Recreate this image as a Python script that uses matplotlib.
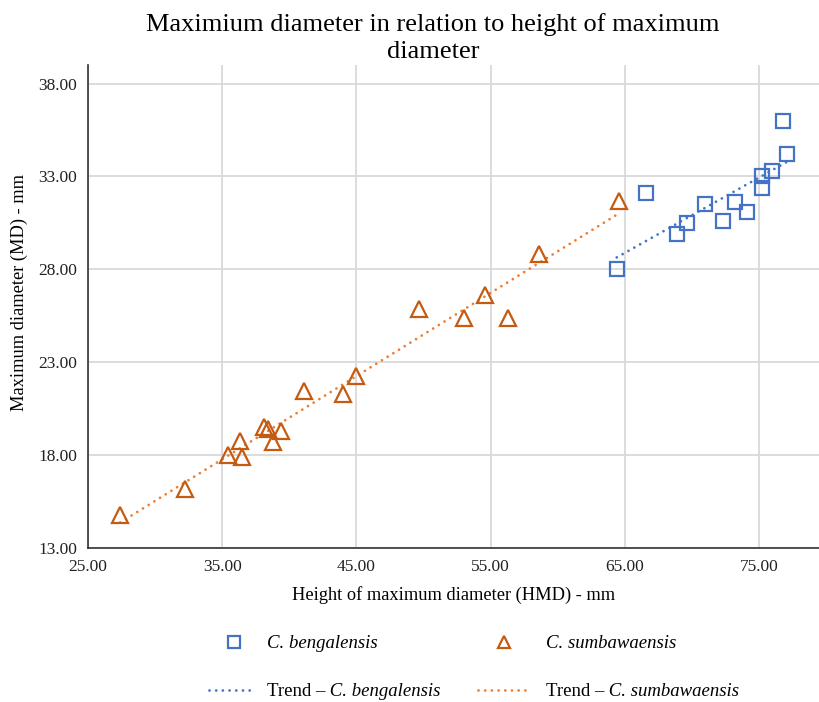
import numpy as np
import matplotlib
matplotlib.use("Agg")
import matplotlib.pyplot as plt
from matplotlib.lines import Line2D

plt.rcParams['font.family'] = ['Liberation Serif', 'DejaVu Serif']

# C. bengalensis (HMD, MD)
beng_hmd = [76.8, 77.1, 76.0, 75.2, 75.2, 66.6, 73.2, 71.0, 74.1, 69.6, 72.3, 68.9, 64.4]
beng_md = [36.0, 34.2, 33.3, 33.0, 32.4, 32.1, 31.6, 31.5, 31.1, 30.5, 30.6, 29.9, 28.0]

# C. sumbawaensis (HMD, MD)
sumb_hmd = [27.4, 32.2, 35.4, 36.5, 36.3, 38.1, 38.4, 38.75, 39.4, 41.1, 44.0, 45.0,
            49.7, 53.0, 54.6, 56.3, 58.6, 64.6]
sumb_md = [14.8, 16.2, 18.0, 17.9, 18.75, 19.5, 19.4, 18.7, 19.3, 21.45, 21.3, 22.25,
           25.85, 25.4, 26.6, 25.4, 28.8, 31.7]

x_ticks = [25, 35, 45, 55, 65, 75]
y_ticks = [13, 18, 23, 28, 33, 38]

blue = '#4472C4'
orange_mk = '#C55A11'
orange_ln = '#ED7D31'
dots = (0, (0.01, 2.4))
dot_lw = 2.0

W, H = 820, 702
fig = plt.figure(figsize=(W / 100, H / 100), dpi=100)
ax = fig.add_axes([0.1073, 0.2194, 0.892, 0.688])

ax.plot(beng_hmd, beng_md, 's', ms=9.5, mfc='none', mec=blue, mew=1.6, zorder=3)
ax.plot(sumb_hmd, sumb_md, '^', ms=11, mfc='none', mec=orange_mk, mew=1.6, zorder=3)

# linear trend lines
for xs, ys, col in [(beng_hmd, beng_md, blue), (sumb_hmd, sumb_md, orange_ln)]:
    k, b = np.polyfit(xs, ys, 1)
    xx = np.array([min(xs), max(xs)])
    ax.plot(xx, k * xx + b, color=col, lw=dot_lw, ls=dots,
            dash_capstyle='round', zorder=2)

ax.set_xlim(25, 79.5)
ax.set_ylim(13, 39)
ax.set_xticks(x_ticks)
ax.set_yticks(y_ticks)
ax.set_xticklabels([f'{v:.2f}' for v in x_ticks])
ax.set_yticklabels([f'{v:.2f}' for v in y_ticks])
ax.tick_params(length=0, labelsize=12.5, pad=8, labelcolor='#222222')
ax.grid(True, color='#D9D9D9', lw=1.3)
ax.set_axisbelow(True)
for s in ['top', 'right']:
    ax.spines[s].set_visible(False)
for s in ['left', 'bottom']:
    ax.spines[s].set_color('#333333')
    ax.spines[s].set_linewidth(1.2)

ax.set_xlabel('Height of maximum diameter (HMD) - mm', fontsize=13.2, labelpad=8)
ax.set_ylabel('Maximum diameter (MD) - mm', fontsize=13.2)
ax.yaxis.set_label_coords(-0.082, 0.53)
fig.text(0.528, 1 - 13 / H, 'Maximium diameter in relation to height of maximum\ndiameter',
         fontsize=19, ha='center', va='top', linespacing=1.3)

# legend, laid out by hand in pixel positions of the figure
def fx(px):
    return px / W


def fy(py):
    return 1 - py / H


leg_fs = 13.5
fig.add_artist(Line2D([fx(234)], [fy(642)], marker='s', ms=8.5, mfc='none', mec=blue,
                      mew=1.6, transform=fig.transFigure))
fig.add_artist(Line2D([fx(504)], [fy(642)], marker='^', ms=9, mfc='none', mec=orange_mk,
                      mew=1.6, transform=fig.transFigure))
fig.add_artist(Line2D([fx(209), fx(250)], [fy(690), fy(690)], color=blue, lw=dot_lw, ls=dots,
                      dash_capstyle='round', transform=fig.transFigure))
fig.add_artist(Line2D([fx(478), fx(526)], [fy(690), fy(690)], color=orange_ln, lw=dot_lw,
                      ls=dots, dash_capstyle='round', transform=fig.transFigure))

fig.text(fx(267), fy(643), 'C. bengalensis', style='italic', fontsize=leg_fs, va='center')
fig.text(fx(546), fy(643), 'C. sumbawaensis', style='italic', fontsize=leg_fs, va='center')
for x0, name in [(267, 'C. bengalensis'), (546, 'C. sumbawaensis')]:
    t = fig.text(fx(x0), fy(691), 'Trend –', fontsize=leg_fs, va='center')
    fig.add_artist(plt.Annotation(' ' + name, xy=(1, 0), xycoords=t, va='bottom',
                                  style='italic', fontsize=leg_fs))

fig.savefig('out.png', dpi=100)
